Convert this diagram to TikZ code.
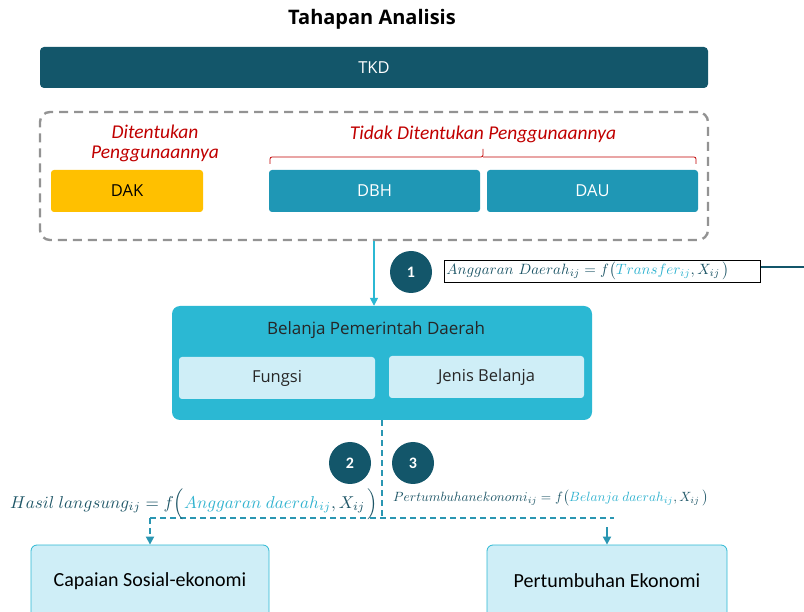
\documentclass[tikz,border=0pt]{standalone}
\usepackage{graphicx}
\usepackage{fontspec}
\setmainfont{Open Sans}
\newfontfamily\carl{Carlito}
\usetikzlibrary{arrows.meta}
\definecolor{dteal}{HTML}{13566A}
\definecolor{mteal}{HTML}{1F97B5}
\definecolor{lteal}{HTML}{2BB8D3}
\definecolor{pale}{HTML}{CFEEF7}
\definecolor{gold}{HTML}{FFC000}
\definecolor{redt}{HTML}{C00000}
\definecolor{ftxt}{HTML}{1D5566}
\definecolor{fblue}{HTML}{2FB2CF}
\definecolor{dline}{HTML}{2A96B2}
\begin{document}
\begin{tikzpicture}[x=1pt,y=-1pt,
  box/.style={rectangle, rounded corners=4, inner sep=0pt, font=\fontsize{16.5}{19}\selectfont},
  subbox/.style={box, fill=pale, rounded corners=3, text=black!85},
  numc/.style={circle, fill=dteal, minimum size=42pt, inner sep=0pt, text=white, font=\carl\bfseries\fontsize{16}{18}\selectfont},
  redlab/.style={text=redt, font=\carl\itshape\fontsize{19.5}{23}\selectfont, align=center},
  dflow/.style={draw=dline, line width=1.8pt, dash pattern=on 6pt off 4pt},
  tip/.style={-{Triangle[width=8pt,length=8pt]}},
  outbox/.style={box, fill=pale, draw=lteal, line width=0.8pt, rounded corners=6}
]
\useasboundingbox (0,0) rectangle (804,612);
\node[font=\bfseries\fontsize{20}{23}\selectfont] (title) at (372,19) {Tahapan Analisis};
\node[box, fill=dteal, text=white, minimum width=668pt, minimum height=41pt] (tkd) at (374,67.5) {TKD};
\node[draw=gray!85, line width=2.4pt, dash pattern=on 9pt off 6pt, rounded corners=10, minimum width=668pt, minimum height=128pt, inner sep=0pt] (grp) at (374,176) {};
\node[redlab] (lab1) at (155,143) {Ditentukan\\[-3pt]Penggunaannya};
\node[redlab] (lab2) at (483,134) {Tidak Ditentukan Penggunaannya};
\draw[redt, line width=0.8pt, rounded corners=2] (270,164) |- (483,157) -- (483,149);
\draw[redt, line width=0.8pt, rounded corners=2] (483,157) -| (696,164);
\node[box, fill=gold, rounded corners=3, minimum width=152pt, minimum height=42pt, text=black] (dak) at (127,191) {DAK};
\node[box, fill=mteal, rounded corners=3, minimum width=211pt, minimum height=42pt, text=white] (dbh) at (374.5,191) {DBH};
\node[box, fill=mteal, rounded corners=3, minimum width=211pt, minimum height=42pt, text=white] (dau) at (592.5,191) {DAU};
% belanja
\node[box, fill=lteal, rounded corners=8, minimum width=420pt, minimum height=114pt] (bel) at (382,363) {};
\node[font=\fontsize{17}{19}\selectfont, text=black!85] (beltitle) at (376,330) {Belanja Pemerintah Daerah};
\node[subbox, minimum width=196pt, minimum height=42pt] (fungsi) at (277,378) {Fungsi};
\node[subbox, minimum width=195pt, minimum height=42pt] (jenis) at (486.5,377) {Jenis Belanja};
\draw[lteal, line width=1.5pt, tip] (grp.south) -- (grp.south |- bel.north);
% formula 1
\node[numc] (c1) at (411,272) {1};
\node[draw=black, line width=0.8pt, text width=312pt, align=left, minimum height=22pt, inner sep=2pt, anchor=west, text=ftxt] (f1) at (444,271)
  {\resizebox{283pt}{!}{$Anggaran\ Daerah_{ij} = f\big(\textcolor{fblue}{Transfer_{ij}}, X_{ij}\,\big)$}};
\coordinate (edge) at (804,267);
\draw[dteal, line width=2pt] (f1.east |- edge) -- (edge);
% lower part
\node[numc] (c2) at (350,463) {2};
\node[numc] (c3) at (413,463) {3};
\coordinate (jn) at (382,518);
\coordinate (lj) at (150,518);
\coordinate (rj) at (614,518);
\coordinate (rt) at (607,527);
\node[outbox, minimum width=238pt, minimum height=80pt] (cap) at (150,585) {};
\node[font=\carl\fontsize{20}{23}\selectfont, text=black] (captxt) at (150,581) {Capaian Sosial-ekonomi};
\node[outbox, minimum width=240pt, minimum height=80pt] (pert) at (607,585) {};
\node[font=\carl\fontsize{20}{23}\selectfont, text=black] (perttxt) at (607,581) {Pertumbuhan Ekonomi};
\draw[dflow] (bel.south) -- (jn);
\draw[dflow] (lj) -- (rj);
\draw[dflow, tip] (lj) -- (lj |- cap.north);
\draw[dline, line width=1.8pt, tip] (rt) -- (rt |- pert.north);
\node[text=ftxt, anchor=west, inner sep=0pt] (f2) at (10,504)
  {\resizebox{368pt}{!}{$Hasil\ langsung_{ij} = f\Big(\textcolor{fblue}{Anggaran\ daerah_{ij}}, X_{ij}\,\Big)$}};
\node[text=ftxt, anchor=west, inner sep=0pt] (f3) at (393,498)
  {\resizebox{315pt}{!}{$Pertumbuhanekonomi_{ij} = f\big(\textcolor{fblue}{Belanja\ daerah_{ij}}, X_{ij}\,\big)$}};
\end{tikzpicture}
\end{document}
